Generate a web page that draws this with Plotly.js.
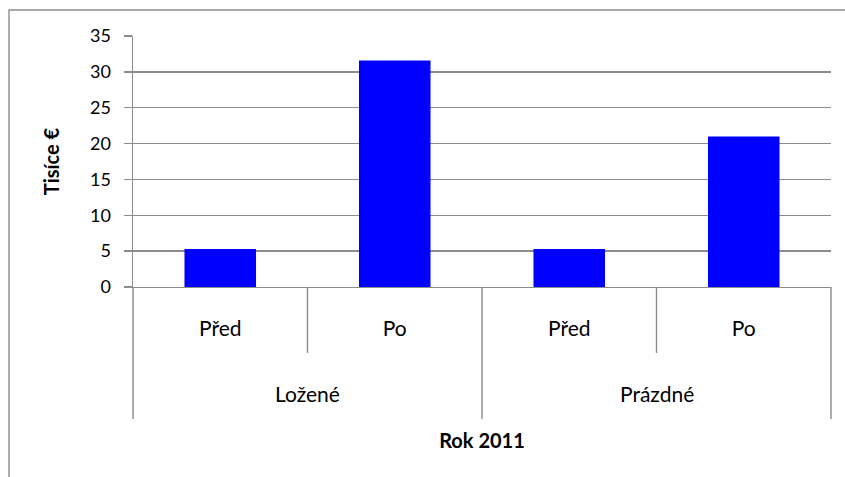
<!DOCTYPE html>
<html>
<head>
<meta charset="utf-8">
<script src="https://cdn.plot.ly/plotly-3.0.1.min.js"></script>
<style>
  html, body { margin: 0; padding: 0; background: #fff; }
  #chart { width: 845px; height: 477px; }
</style>
</head>
<body>
<div id="chart"></div>
<script>
// Náklady v tisících eur, rok 2011
const groups = ['Ložené', 'Prázdné'];
const phases = ['Před', 'Po'];
const values = [5.3, 31.6, 5.3, 21.0];
const yTickValues = [0, 5, 10, 15, 20, 25, 30, 35];
const yTitle = 'Tisíce €';
const xTitle = 'Rok 2011';

// Plot frame in page pixels
const W = 845, H = 477;
const M = { l: 133, r: 14, t: 36, b: 190 };
const plotW = W - M.l - M.r;
const plotH = H - M.t - M.b;
const px2X = px => (px - M.l) / plotW;
const px2Y = py => (H - M.b - py) / plotH;

const FONT = 'Lato, "Open Sans", sans-serif';
const GREY = '#8c8c8c';

const n = values.length;
const perGroup = phases.length;
const xIdx = values.map((v, i) => i);
const xText = values.map((v, i) => phases[i % perGroup]);

// Category separators: short ones between phases, long ones between groups
const shapes = [];
for (let b = 0; b <= n; b++) {
  const isGroupEdge = b % perGroup === 0;
  shapes.push({
    type: 'line', xref: 'paper', yref: 'paper',
    x0: b / n, x1: b / n,
    y0: 0, y1: px2Y(isGroupEdge ? 419 : 353),
    line: { color: GREY, width: 1.4 }
  });
}
// Chart area border
shapes.push({
  type: 'rect', xref: 'paper', yref: 'paper',
  x0: px2X(9), x1: px2X(860), y0: px2Y(10), y1: px2Y(490),
  line: { color: GREY, width: 1.4 }, fillcolor: 'rgba(0,0,0,0)', layer: 'below'
});

// Group labels under the phase labels
const annotations = groups.map((g, gi) => ({
  text: g, xref: 'x', yref: 'paper',
  x: gi * perGroup + (perGroup - 1) / 2, y: px2Y(393),
  xanchor: 'center', yanchor: 'middle', showarrow: false,
  font: { family: FONT, size: 21, color: '#000' }
}));

const trace = {
  type: 'bar',
  x: xIdx,
  y: values,
  marker: { color: '#0000ff', line: { width: 0 } },
  hoverinfo: 'y'
};

const layout = {
  width: W, height: H,
  margin: M,
  paper_bgcolor: '#fff', plot_bgcolor: '#fff',
  showlegend: false,
  bargap: 0.59,
  font: { family: FONT, color: '#000' },
  xaxis: {
    range: [-0.5, n - 0.5],
    tickmode: 'array', tickvals: xIdx, ticktext: xText,
    ticks: '', showgrid: false, zeroline: false,
    showline: true, linecolor: GREY, linewidth: 1.4,
    tickfont: { family: FONT, size: 21, color: '#000' },
    ticklabelstandoff: 22,
    title: { text: xTitle, standoff: 95, font: { family: FONT, size: 20, color: '#000', weight: 'bold' } },
    automargin: false, fixedrange: true
  },
  yaxis: {
    range: [0, 35],
    tickmode: 'array', tickvals: yTickValues,
    ticks: 'outside', ticklen: 8, tickcolor: GREY, tickwidth: 1.4,
    showgrid: true, gridcolor: GREY, gridwidth: 1.4,
    zeroline: false, showline: true, linecolor: GREY, linewidth: 1.4,
    tickfont: { family: FONT, size: 18, color: '#000' },
    ticklabelstandoff: 9,
    title: { text: yTitle, standoff: 25, font: { family: FONT, size: 20, color: '#000', weight: 'bold' } },
    automargin: false, fixedrange: true
  },
  shapes: shapes,
  annotations: annotations
};

Plotly.newPlot('chart', [trace], layout, { displayModeBar: false, staticPlot: true });
</script>
</body>
</html>
